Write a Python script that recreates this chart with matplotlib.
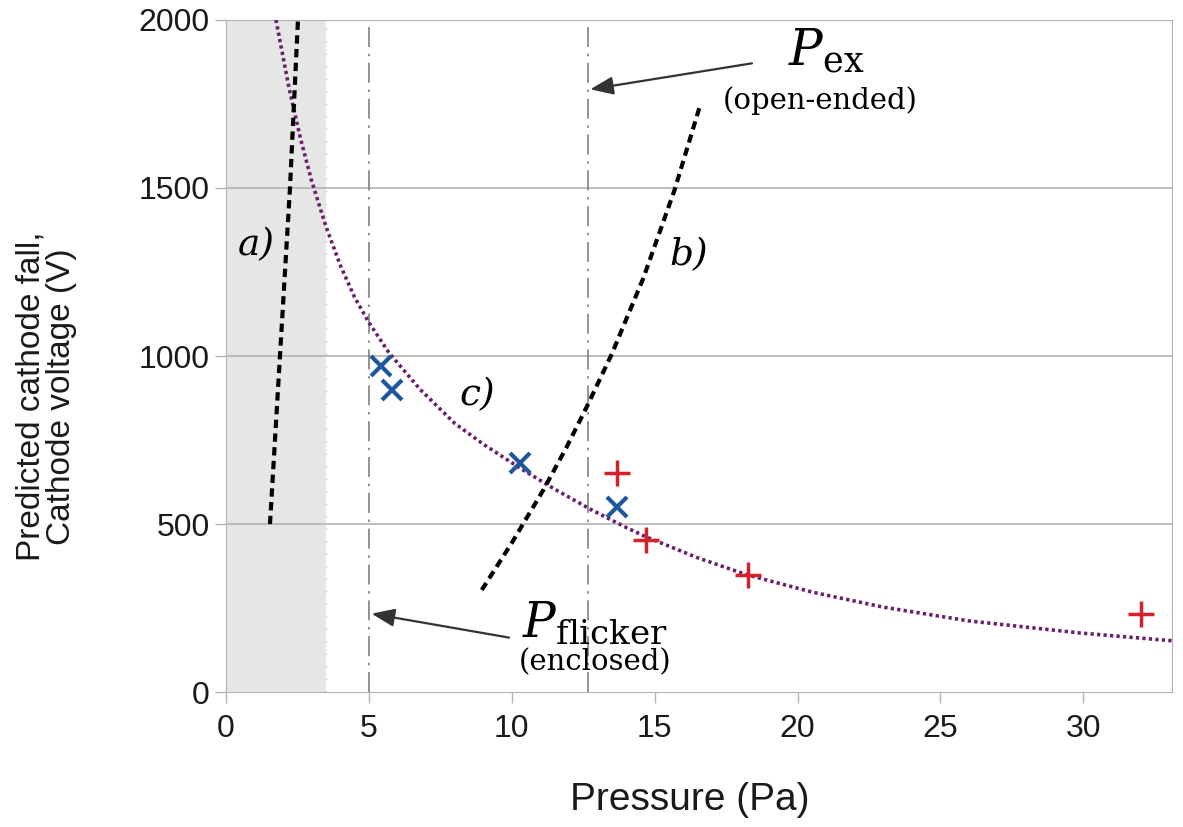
import matplotlib.pyplot as plt
import numpy as np

plt.rcParams.update({
    'font.family': ['Liberation Sans', 'DejaVu Sans'],
    'mathtext.fontset': 'dejavuserif',
    'axes.edgecolor': '#b3b3b3',
    'xtick.color': '#b3b3b3',
    'ytick.color': '#b3b3b3',
    'xtick.labelcolor': '#1a1a1a',
    'ytick.labelcolor': '#1a1a1a',
})

# c) predicted cathode fall curve (read off the picture)
p_c = [1.75, 2.2, 2.6, 3.0, 3.5, 4.0, 4.5, 5.0, 5.7, 6.8, 8.0, 9.0, 10.3,
       11.5, 12.8, 14.0, 14.7, 16.5, 18.2, 20.5, 23.0, 26.0, 29.9, 33.1]
v_c = [2000, 1800, 1650, 1520, 1385, 1270, 1175, 1100, 1010, 900, 800, 738,
       666, 604, 542, 490, 462, 400, 350, 298, 253, 212, 176, 153]

# a) and b) dashed curves
p_a = [1.54, 1.89, 2.24, 2.52]
v_a = [500, 1000, 1500, 2000]
p_b = [8.95, 10.0, 11.1, 11.9, 12.62, 13.5, 14.6, 15.7, 16.57]
v_b = [304, 444, 601, 726, 848, 1006, 1231, 1495, 1740]

# measured cathode voltage
p_enc = [5.42, 5.80, 10.3, 13.67]
v_enc = [970, 900, 682, 551]
p_open = [13.67, 14.69, 18.25, 32.0]
v_open = [652, 452, 348, 232]

p_flicker = 5.0
p_ex = 12.65
shade_end = 3.5

fig, ax = plt.subplots(figsize=(11.83, 8.27), dpi=100)
fig.subplots_adjust(left=0.191, right=0.9907, bottom=0.163, top=0.976)

ax.axvspan(0, shade_end, color='#e6e6e6', lw=0, zorder=0)
ax.axvline(shade_end, color='#c8c8c8', lw=1, ls=(0, (1, 8)), zorder=1)
for y in [500, 1000, 1500, 2000]:
    ax.axhline(y, color='#b3b3b3', lw=1.2, zorder=1)

ax.axvline(p_flicker, color='#808080', lw=1.2, ls=(0, (12, 4, 1.5, 4)), zorder=2)
ax.axvline(p_ex, color='#808080', lw=1.2, ls=(0, (12, 4, 1.5, 4)), zorder=2)

ax.plot(p_c, v_c, color='#6a1f6e', lw=2.6, ls=(0, (0.9, 0.9)), zorder=3)
ax.plot(p_a, v_a, color='black', lw=3, ls=(0, (2, 1.3)), zorder=3)
ax.plot(p_b, v_b, color='black', lw=3, ls=(0, (2, 1.3)), zorder=3)

ax.plot(p_enc, v_enc, 'x', color='#1f56a0', ms=14, mew=3, zorder=4)
ax.plot(p_open, v_open, '+', color='#d7202a', ms=19, mew=2.5, zorder=4)

lab = dict(fontsize=27, family='DejaVu Serif', style='italic', ha='center', va='center')
ax.text(1.05, 1330, 'a)', **lab)
ax.text(16.2, 1300, 'b)', **lab)
ax.text(8.8, 885, 'c)', **lab)

ax.text(21.0, 1905, r'$P_\mathrm{ex}$', fontsize=36, ha='center', va='center')
ax.text(20.8, 1760, '(open-ended)', fontsize=21, family='DejaVu Serif',
        ha='center', va='center')
ax.text(12.9, 205, r'$P_\mathrm{flicker}$', fontsize=35, ha='center', va='center')
ax.text(12.9, 88, '(enclosed)', fontsize=21, family='DejaVu Serif',
        ha='center', va='center')

arw = dict(arrowstyle='-|>,head_length=1.4,head_width=0.55', color='#333333', lw=1.6)
ax.annotate('', xy=(p_ex, 1792), xytext=(18.5, 1872), arrowprops=arw)
ax.annotate('', xy=(p_flicker, 235), xytext=(10.0, 161), arrowprops=arw)

ax.set_xlim(0, 33.1)
ax.set_ylim(0, 2000)
ax.set_xticks([0, 5, 10, 15, 20, 25, 30])
ax.set_yticks([0, 500, 1000, 1500, 2000])
ax.tick_params(labelsize=23, length=8, width=1)
ax.tick_params(axis='x', pad=8)
ax.set_xlabel('Pressure (Pa)', fontsize=28, color='#1a1a1a')
ax.set_ylabel('Predicted cathode fall,\nCathode voltage (V)', fontsize=24,
              color='#1a1a1a', linespacing=1.0)
ax.xaxis.set_label_coords(0.49, -0.161)
ax.yaxis.set_label_coords(-0.19, 0.44)
ax.xaxis.label.set_va('center')
ax.yaxis.label.set_va('center')

plt.savefig('out.png', dpi=100)
